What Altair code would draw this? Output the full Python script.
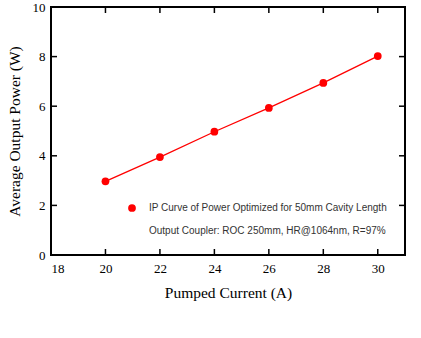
import altair as alt
import pandas as pd

current = [20, 22, 24, 26, 28, 30]
power = [2.97, 3.95, 4.97, 5.93, 6.94, 8.02]
x_ticks = [18, 20, 22, 24, 26, 28, 30]
y_ticks = [0, 2, 4, 6, 8, 10]
legend_lines = ["IP Curve of Power Optimized for 50mm Cavity Length",
                "Output Coupler: ROC 250mm, HR@1064nm, R=97%"]

W, H = 354, 248
df = pd.DataFrame({"I": current, "P": power})
xs = alt.Scale(domain=[18, 31], nice=False, zero=False)
ys = alt.Scale(domain=[0, 10], nice=False)

serif = "Liberation Serif"

xaxis = alt.Axis(values=x_ticks, title="Pumped Current (A)", tickSize=0, domain=False, grid=False,
                 labelFont=serif, labelFontSize=13, labelColor="black", labelPadding=7,
                 titleFont=serif, titleFontSize=15.5, titleFontWeight="normal", titleColor="black",
                 titlePadding=10)
yaxis = alt.Axis(values=y_ticks, title="Average Output Power (W)", tickSize=0, domain=False, grid=False,
                 labelFont=serif, labelFontSize=13, labelColor="black", labelPadding=6,
                 titleFont=serif, titleFontSize=15.5, titleFontWeight="normal", titleColor="black",
                 titlePadding=10)

line = alt.Chart(df).mark_line(color="#ff0000", strokeWidth=1.3).encode(
    x=alt.X("I:Q", scale=xs, axis=xaxis),
    y=alt.Y("P:Q", scale=ys, axis=yaxis),
)
pts = alt.Chart(df).mark_circle(color="#ff0000", size=60, opacity=1).encode(
    x=alt.X("I:Q", scale=xs, axis=xaxis), y=alt.Y("P:Q", scale=ys, axis=yaxis))

xt = pd.DataFrame({"t": x_ticks[1:]})
yt = pd.DataFrame({"t": y_ticks[1:-1]})
tb = alt.Chart(xt).mark_rule(color="black", strokeWidth=1.5).encode(
    x=alt.X("t:Q", scale=xs, axis=xaxis), y=alt.value(H), y2=alt.value(H - 6))
tt = alt.Chart(xt).mark_rule(color="black", strokeWidth=1.5).encode(
    x=alt.X("t:Q", scale=xs, axis=xaxis), y=alt.value(0), y2=alt.value(6))
tl = alt.Chart(yt).mark_rule(color="black", strokeWidth=1.5).encode(
    y=alt.Y("t:Q", scale=ys, axis=yaxis), x=alt.value(0), x2=alt.value(6))
tr = alt.Chart(yt).mark_rule(color="black", strokeWidth=1.5).encode(
    y=alt.Y("t:Q", scale=ys, axis=yaxis), x=alt.value(W), x2=alt.value(W - 6))

one = pd.DataFrame({"a": [0]})
leg_pt = alt.Chart(one).mark_circle(color="#ff0000", size=60, opacity=1).encode(
    x=alt.value(81), y=alt.value(201))
leg_t1 = alt.Chart(one).mark_text(align="left", baseline="middle", font="Liberation Sans",
                                  fontSize=10, color="#333333", text=legend_lines[0]).encode(
    x=alt.value(98), y=alt.value(201))
leg_t2 = alt.Chart(one).mark_text(align="left", baseline="middle", font="Liberation Sans",
                                  fontSize=10, color="#333333", text=legend_lines[1]).encode(
    x=alt.value(98), y=alt.value(224))

chart = alt.layer(line, pts, tb, tt, tl, tr, leg_pt, leg_t1, leg_t2).properties(
    width=W, height=H,
    autosize=alt.AutoSizeParams(type="none"),
    padding={"left": 51, "top": 7, "right": 16, "bottom": 83},
).configure(background="white").configure_view(stroke="black", strokeWidth=2)

chart.save("out.html", embed_options={"renderer": "svg", "actions": False})
